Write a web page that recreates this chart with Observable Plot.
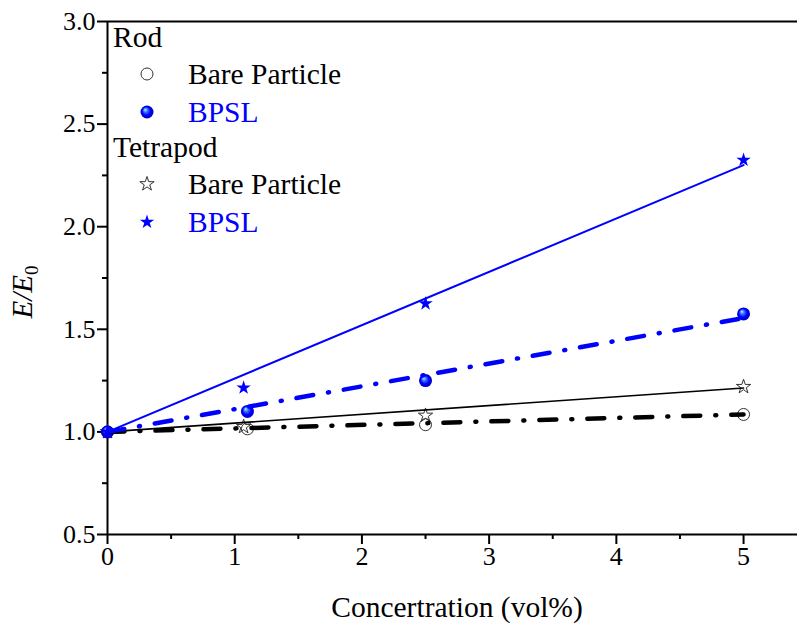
<!DOCTYPE html>
<html><head><meta charset="utf-8">
<script src="https://cdn.jsdelivr.net/npm/d3@7"></script>
<script src="https://cdn.jsdelivr.net/npm/@observablehq/plot@0.6"></script>
<style>body{margin:0;background:#fff}</style>
</head><body><div id="chart"></div>
<script>
// ---- data ----
const rodX = [0, 1.1, 2.5, 5];
const rodBare = [1.0, 1.015, 1.035, 1.085];
const rodBPSL = [1.0, 1.10, 1.25, 1.575];
const tetX = [0, 1.07, 2.5, 5];
const tetBare = [1.0, 1.025, 1.08, 1.22];
const tetBPSL = [1.0, 1.215, 1.625, 2.325];
const fitX = [0, 5];
const fitRodBare = [1.0, 1.085];
const fitRodBPSL = [1.0, 1.555];
const fitTetBare = [1.0, 1.214];
const fitTetBPSL = [1.0, 2.30];
const xTicks = [0, 1, 2, 3, 4, 5];
const xMinor = [0.5, 1.5, 2.5, 3.5, 4.5];
const yTicks = [0.5, 1.0, 1.5, 2.0, 2.5, 3.0];
const yMinor = [0.75, 1.25, 1.75, 2.25, 2.75];
const legendGroups = ["Rod", "Tetrapod"];
const legendItems = ["Bare Particle", "BPSL"];
const xTitle = "Concertration (vol%)";

const pts = (xs, ys) => xs.map((x, i) => ({x, y: ys[i]}));
const BLUE = "#0000ff";
const FONT = "Liberation Serif";

const plot = Plot.plot({
  width: 797, height: 626,
  marginLeft: 107, marginRight: 0, marginTop: 21, marginBottom: 92,
  x: {domain: [0, 5.424]},
  y: {domain: [0.5, 3.0]},
  style: {fontFamily: FONT, fontSize: "26px", color: "black", background: "white", overflow: "visible"},
  marks: [
    Plot.ruleY([0.5], {strokeWidth: 2, stroke: "black"}),
    Plot.ruleY([3.0], {strokeWidth: 2, stroke: "black"}),
    Plot.ruleX([0], {strokeWidth: 2, stroke: "black"}),
    Plot.axisX({ticks: xTicks, tickSize: 10, tickPadding: 2, strokeWidth: 2, label: null, anchor: "bottom", tickFormat: d3.format("d"), fontFamily: FONT, fontSize: 26}),
    Plot.axisX({ticks: xMinor, tickSize: 5, strokeWidth: 2, label: null, anchor: "bottom", tickFormat: () => ""}),
    Plot.axisY({ticks: yTicks, tickSize: 10, tickPadding: 2, strokeWidth: 2, label: null, anchor: "left", tickFormat: d3.format(".1f"), fontFamily: FONT, fontSize: 26}),
    Plot.axisY({ticks: yMinor, tickSize: 5, strokeWidth: 2, label: null, anchor: "left", tickFormat: () => ""}),
    // markers
    Plot.dot(pts(rodX, rodBare), {x: "x", y: "y", r: 6, stroke: "#333", fill: "none", strokeWidth: 1}),
    Plot.dot(pts(tetX, tetBare), {x: "x", y: "y", symbol: "star", r: 4.5, stroke: "#333", fill: "none", strokeWidth: 1}),
    Plot.dot(pts(rodX, rodBPSL), {x: "x", y: "y", r: 6.5, fill: "url(#sphereGrad)", stroke: "none"}),
    Plot.dot(pts(tetX, tetBPSL), {x: "x", y: "y", symbol: "star", r: 4.5, fill: BLUE, stroke: "none"}),
    // fit lines
    Plot.line(pts(fitX, fitTetBare), {x: "x", y: "y", stroke: "black", strokeWidth: 1.6}),
    Plot.line(pts(fitX, fitRodBare), {x: "x", y: "y", stroke: "black", strokeWidth: 4.5, strokeDasharray: "17,15,1,15", strokeLinecap: "round"}),
    Plot.line(pts(fitX, fitTetBPSL), {x: "x", y: "y", stroke: BLUE, strokeWidth: 2}),
    Plot.line(pts(fitX, fitRodBPSL), {x: "x", y: "y", stroke: BLUE, strokeWidth: 4.5, strokeDasharray: "17,15,1,15", strokeLinecap: "round"})
  ]
});

const s = d3.select(plot);
const defs = s.insert("defs", ":first-child");
const g = defs.append("radialGradient").attr("id", "sphereGrad")
  .attr("cx", "0.5").attr("cy", "0.5").attr("r", "0.5").attr("fx", "0.35").attr("fy", "0.3");
g.append("stop").attr("offset", "0%").attr("stop-color", "#b8f4ff");
g.append("stop").attr("offset", "30%").attr("stop-color", "#3a7cff");
g.append("stop").attr("offset", "65%").attr("stop-color", "#0000ff");
g.append("stop").attr("offset", "100%").attr("stop-color", "#0000c0");

// axis titles
s.append("text").attr("x", 457).attr("y", 617).attr("text-anchor", "middle")
  .style("font-family", FONT).style("font-size", "29.5px").attr("fill", "black").text(xTitle);
const yt = s.append("text").attr("transform", "translate(32,292) rotate(-90)").attr("text-anchor", "middle")
  .style("font-family", FONT).style("font-size", "29px").attr("fill", "black");
yt.append("tspan").attr("font-style", "italic").text("E/E");
yt.append("tspan").style("font-size", "19px").attr("dy", 6).text("0");

// legend
const lg = s.append("g").style("font-family", FONT).style("font-size", "29.5px").attr("text-anchor", "start");
const rowsTop = [47, 157];
legendGroups.forEach((grp, gi) => {
  const base = rowsTop[gi];
  lg.append("text").attr("x", 113).attr("y", base).attr("fill", "black").text(grp);
  legendItems.forEach((item, ii) => {
    const cy = base + 27 + ii * 38;
    const isBlue = ii === 1;
    let sym;
    if (gi === 0) {
      sym = lg.append("circle").attr("cx", 147).attr("cy", cy).attr("r", isBlue ? 6.5 : 6);
      if (isBlue) sym.attr("fill", "url(#sphereGrad)");
      else sym.attr("fill", "none").attr("stroke", "#333").attr("stroke-width", 1);
    } else {
      sym = lg.append("path").attr("transform", `translate(147,${cy})`)
        .attr("d", d3.symbol(d3.symbolStar, Math.PI * 4.5 * 4.5)());
      if (isBlue) sym.attr("fill", BLUE);
      else sym.attr("fill", "none").attr("stroke", "#333").attr("stroke-width", 1);
    }
    lg.append("text").attr("x", 188).attr("y", cy + 10).attr("fill", isBlue ? BLUE : "black").text(item);
  });
});

document.getElementById("chart").appendChild(plot);
</script>
</body></html>
